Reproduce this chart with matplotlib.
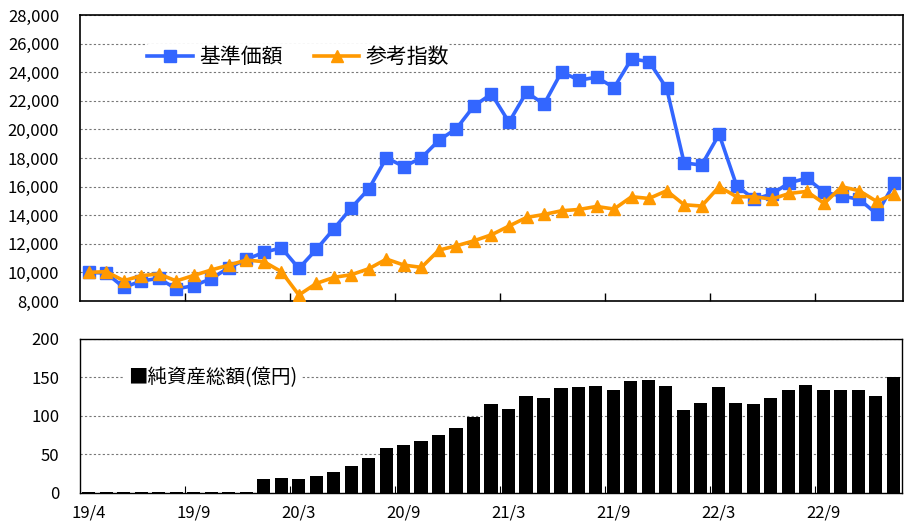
import matplotlib
matplotlib.use("Agg")
import matplotlib.pyplot as plt
from matplotlib.ticker import FuncFormatter, FixedLocator

plt.rcParams['font.family'] = ['Noto Sans CJK JP', 'DejaVu Sans']

# monthly data, 47 points
nav = [10000, 9950, 8950, 9400, 9580, 8850, 9070, 9560, 10330, 10910,
       11400, 11720, 10280, 11610, 13050, 14520, 15850, 18010, 17400, 18010,
       19240, 20060, 21640, 22480, 20500, 22600, 21760, 24020, 23440, 23650,
       22920, 24930, 24740, 22880, 17660, 17500, 19660, 16060, 15120, 15470,
       16260, 16590, 15610, 15330, 15120, 14080, 16220]
ref = [10000, 10050, 9420, 9770, 9890, 9400, 9790, 10170, 10510, 10860,
       10750, 10050, 8420, 9230, 9650, 9840, 10260, 10930, 10510, 10350,
       11560, 11860, 12210, 12630, 13240, 13840, 14050, 14310, 14400, 14610,
       14430, 15290, 15170, 15710, 14730, 14640, 15990, 15290, 15290, 15120,
       15520, 15660, 14820, 15990, 15710, 14960, 15470]
assets = [1, 1, 1, 1, 1, 1, 1, 1, 1, 1,
          18, 19.4, 18, 22, 27.6, 35, 46, 58.6, 62.5, 67,
          75.4, 84.5, 99, 115, 109.5, 125.4, 122.8, 135.8, 137, 139.2,
          133.6, 145.2, 147, 138.4, 107.3, 116.4, 137.9, 116.4, 115.5, 122.8,
          133.6, 139.6, 134, 134, 134, 126.3, 150]
date_labels = ['19/4', '19/9', '20/3', '20/9', '21/3', '21/9', '22/3', '22/9']

x = list(range(len(nav)))
label_pos = [i * 6 for i in range(len(date_labels))]
tick_pos = [i * 6 - 0.5 for i in range(1, len(date_labels))]

blue = '#3366ff'
orange = '#ff9900'
grid_kw = dict(color='#777777', linestyle=(0, (2, 2)), linewidth=0.8)

fig = plt.figure(figsize=(9.09, 5.24), dpi=100)
ax1 = fig.add_axes([0.088, 0.4256, 0.9054, 0.5458])
ax2 = fig.add_axes([0.088, 0.0592, 0.9043, 0.2939])

# top: NAV vs reference index
ax1.plot(x, nav, color=blue, lw=2.6, marker='s', ms=8, label='基準価額', zorder=3)
ax1.plot(x, ref, color=orange, lw=2.6, marker='^', ms=8, label='参考指数', zorder=3)
ax1.set_xlim(-0.5, len(x) - 0.5)
ax1.set_ylim(8000, 28000)
ax1.set_yticks(range(8000, 28001, 2000))
ax1.yaxis.set_major_formatter(FuncFormatter(lambda v, p: f'{int(v):,}'))
ax1.grid(axis='y', **grid_kw)
ax1.set_axisbelow(True)
ax1.xaxis.set_major_locator(FixedLocator(tick_pos))
ax1.tick_params(axis='x', direction='in', length=6, width=1, labelbottom=False)
ax1.tick_params(axis='y', length=0, pad=15, labelsize=12)
leg = ax1.legend(loc='upper left', bbox_to_anchor=(0.066, 0.935), ncol=2,
                 fontsize=15, frameon=True, facecolor='white', edgecolor='none',
                 framealpha=1, handlelength=2.2, columnspacing=1.5,
                 handletextpad=0.3, borderpad=0.1)
for s in ax1.spines.values():
    s.set_linewidth(1.2)

# bottom: net assets
ax2.bar(x, assets, width=0.75, color='black', zorder=3)
ax2.set_xlim(-0.5, len(x) - 0.5)
ax2.set_ylim(0, 200)
ax2.set_yticks(range(0, 201, 50))
ax2.grid(axis='y', **grid_kw)
ax2.set_axisbelow(True)
ax2.xaxis.set_major_locator(FixedLocator(tick_pos))
ax2.xaxis.set_minor_locator(FixedLocator(label_pos))
ax2.xaxis.set_minor_formatter(FuncFormatter(lambda v, p: date_labels[p] if p < len(date_labels) else ''))
ax2.tick_params(axis='x', which='major', direction='in', length=5, labelbottom=False)
ax2.tick_params(axis='x', which='minor', length=0, pad=8, labelsize=12)
ax2.tick_params(axis='y', length=0, pad=15, labelsize=12)
ax2.text(0.058, 0.75, '■純資産総額(億円)', transform=ax2.transAxes, fontsize=14,
         va='center', ha='left',
         bbox=dict(facecolor='white', edgecolor='none', pad=3), zorder=4)
for s in ax2.spines.values():
    s.set_linewidth(1.0)

fig.savefig('out.png', dpi=100)
